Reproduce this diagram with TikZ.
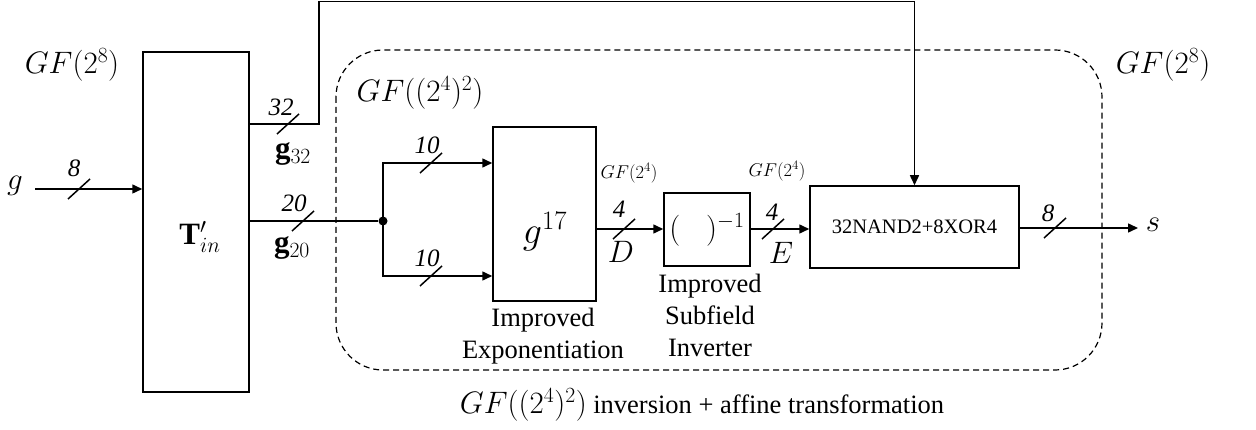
\RequirePackage{fix-cm}
\documentclass[tikz,border=0pt]{standalone}
\usepackage{fontspec}
\setmainfont{LiberationSerif}[Extension=.ttf,UprightFont=*-Regular,ItalicFont=*-Italic,BoldFont=*-Bold,BoldItalicFont=*-BoldItalic]
\usetikzlibrary{arrows.meta}
\newcommand\busmark[1]{\draw[wire] (#1) ++(-11,10) -- ++(22,-20);}
\begin{document}
\begin{tikzpicture}[x=1pt,y=-1pt,
  wire/.style={line width=1.5pt},
  arr/.style={wire,-{Triangle[length=10pt,width=9pt]}},
  blk/.style={draw,line width=1.5pt,inner sep=0pt},
  txt/.style={inner sep=0pt,font=\fontsize{26.5}{32}\selectfont,align=center},
  mth/.style={inner sep=0pt,font=\fontsize{31}{34}\selectfont},
  sml/.style={inner sep=0pt,font=\fontsize{18.5}{20}\selectfont},
  num/.style={inner sep=0pt,font=\fontsize{25}{28}\selectfont\itshape},
  dot/.style={circle,fill,inner sep=0pt,minimum size=9pt}]
\useasboundingbox (0,0) rectangle (1256,430);
% dashed region
\draw[wire,line width=1.2pt,dash pattern=on 6pt off 4pt,rounded corners=47pt] (336,50) rectangle (1102,370);
% blocks
\node[blk,minimum width=106pt,minimum height=340pt] (T) at (196,222) {};
\node[mth] (Tl) at (200,237) {$\mathbf{T}'_{in}$};
\node[blk,minimum width=103pt,minimum height=174pt] (X) at (544.5,214) {};
\node[mth,font=\fontsize{38}{40}\selectfont] (Xl) at (545,232) {$g^{17}$};
\node[blk,minimum width=86pt,minimum height=73pt,mth] (I) at (707,229.5) {$(\;\;\;)^{-1}$};
\node[blk,minimum width=209pt,minimum height=82pt,font=\fontsize{20.5}{24}\selectfont] (N) at (914.5,227) {32NAND2+8XOR4};
% labels
\node[mth] (gf8l) at (72,65) {$GF(2^8)$};
\node[mth] (gf8r) at (1163,65) {$GF(2^8)$};
\node[mth] (gf42) at (420,93) {$GF((2^4)^2)$};
\node[sml] (gf4a) at (629,173) {$GF(2^4)$};
\node[sml] (gf4b) at (777,171) {$GF(2^4)$};
\node[txt] (ex) at (543,336) {Improved\\Exponentiation};
\node[txt] (iv) at (710,315) {Improved\\Subfield\\Inverter};
\node[txt] (cap) at (702,405) {{\fontsize{31}{34}\selectfont$GF((2^4)^2)$} inversion + affine transformation};
% input
\node[mth,inner sep=2pt] (g) at (15,186) {$g$};
\coordinate (gin) at (35,189);
\draw[arr] (gin) -- (gin -| T.west);
\busmark{79,189}
\node[num] (n8) at (74,168) {8};
% 32-bit path
\coordinate (t32) at (T.east |- 0,124);
\coordinate (c1) at (319,124);
\coordinate (c2) at (319,1.5);
\coordinate (c3) at (N.north |- 0,1.5);
\draw[arr] (t32) -- (c1) -- (c2) -- (c3) -- (N.north);
\busmark{288,124}
\node[num] (n32) at (281,107) {32};
\node[mth] (g32) at (293,154) {$\mathbf{g}_{32}$};
% 20-bit path
\coordinate (t20) at (T.east |- 0,221);
\node[dot] (d) at (383,221) {};
\draw[wire] (t20) -- (d);
\busmark{303,221}
\node[num] (n20) at (294,203) {20};
\node[mth] (g20) at (292,248) {$\mathbf{g}_{20}$};
\coordinate (bu) at (383,163);
\coordinate (bl) at (383,276);
\draw[arr] (d.center) -- (bu) -- (bu -| X.west);
\draw[arr] (d.center) -- (bl) -- (bl -| X.west);
\busmark{431,163}
\busmark{431,276}
\node[num] (n10a) at (427,145) {10};
\node[num] (n10b) at (427,258) {10};
% D
\coordinate (xd) at (X.east |- 0,229);
\draw[arr] (xd) -- (xd -| I.west);
\busmark{624,229}
\node[num] (n4a) at (619,209) {4};
\node[mth] (D) at (621,252) {$D$};
% E
\coordinate (ie) at (I.east |- 0,229);
\draw[arr] (ie) -- (ie -| N.west);
\busmark{773,229}
\node[num] (n4b) at (772,212) {4};
\node[mth] (E) at (781,253) {$E$};
% output
\node[mth,inner sep=2pt] (s) at (1153,225) {$s$};
\coordinate (no) at (N.east |- 0,228);
\draw[arr] (no) -- (1138,228);
\busmark{1055,228}
\node[num] (n8b) at (1048,213) {8};
\end{tikzpicture}
\end{document}
